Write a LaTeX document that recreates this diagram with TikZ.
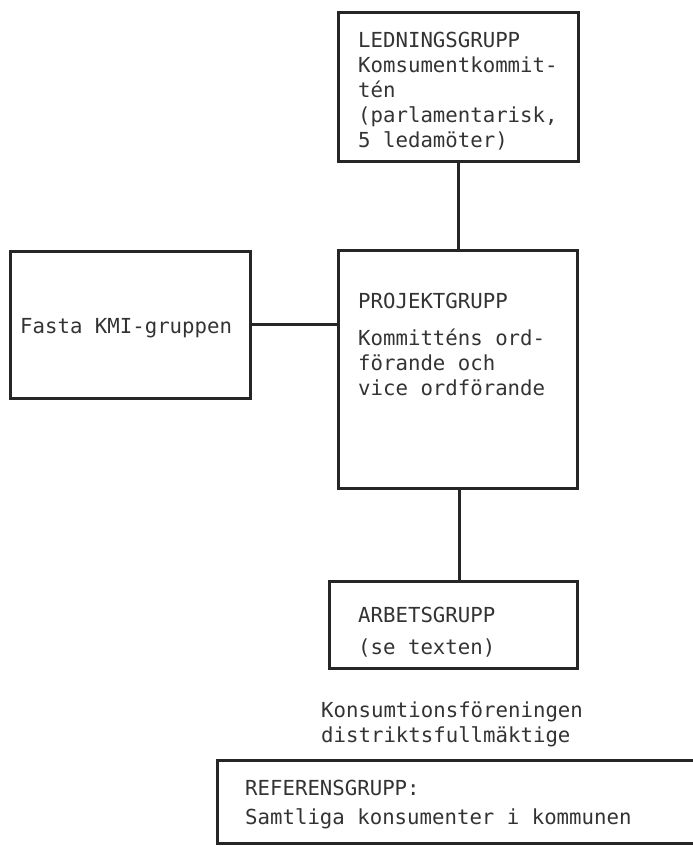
\documentclass[tikz,border=0pt]{standalone}
\usepackage{fontspec}
\newfontfamily\typemono{DejaVu Sans Mono}
\usetikzlibrary{calc}

\begin{document}
\begin{tikzpicture}[x=1pt,y=-1pt,
    grp/.style={draw=black!85,line width=3pt,inner sep=0pt},
    txt/.style={inner sep=0pt,anchor=base west,align=left,text=black!80,
      font={\typemono\fontsize{20.7}{25}\selectfont}}]
            \useasboundingbox (0,0) rectangle (693,846);
            \node[grp,minimum width=240pt,minimum height=149pt] (led) at (458,86.5) {};
            \node[grp,minimum width=239pt,minimum height=238pt] (proj) at (457.5,369) {};
            \node[grp,minimum width=240pt,minimum height=147pt] (fasta) at (130,324.5) {};
            \node[grp,minimum width=248pt,minimum height=87pt] (arb) at (453,624.5) {};
            \node[grp,minimum width=503pt,minimum height=83pt] (ref) at (468.5,801.5) {};
            \node[txt] (ledtxt) at (358,147) {LEDNINGSGRUPP\\Komsumentkommit-\\tén\\(parlamentarisk,\\5 ledamöter)};
            \node[txt] (projtxt) at (358,395) {PROJEKTGRUPP\\[12pt]Kommitténs ord-\\förande och\\vice ordförande};
            \node[txt] (fastatxt) at (20,333) {Fasta KMI-gruppen};
            \node[txt] (arbtxt) at (358,654) {ARBETSGRUPP\\[7pt](se texten)};
            \node[txt] (konstxt) at (321,742) {Konsumtionsföreningen\\distriktsfullmäktige};
            \node[txt] (reftxt) at (245,824) {REFERENSGRUPP:\\[4pt]Samtliga konsumenter i kommunen};
            \draw[black!85,line width=3pt] (led.south) to (led.south |- proj.north);
            \draw[black!85,line width=3pt] (fasta.east) to (proj.west |- fasta.east);
            \draw[black!85,line width=3pt] ($(proj.south)+(1.5,0)$) to ($(proj.south |- arb.north)+(1.5,0)$);
        \end{tikzpicture}
\end{document}
